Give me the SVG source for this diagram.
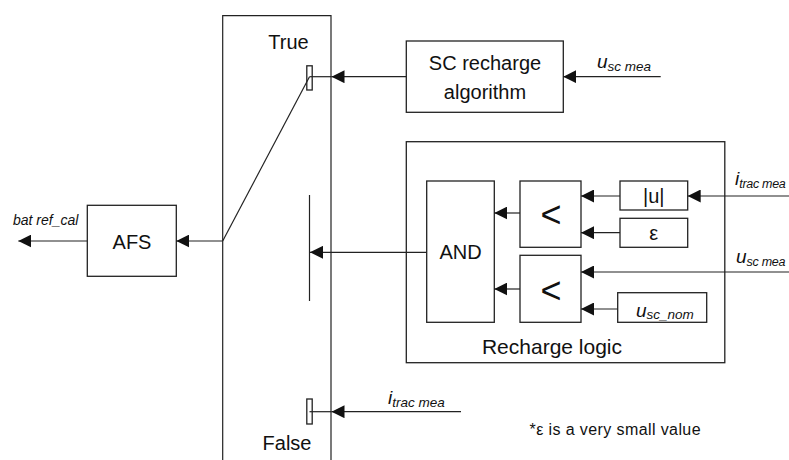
<svg xmlns="http://www.w3.org/2000/svg" width="789" height="460" viewBox="0 0 789 460">
<defs>
<marker id="arr" markerUnits="userSpaceOnUse" markerWidth="14" markerHeight="13" refX="13" refY="6.5" orient="auto">
<path d="M0,0 L13,6.5 L0,13 z" fill="#111"/>
</marker>
<style>
.box{fill:#fff;stroke:#222;stroke-width:1.3}
.ln{fill:none;stroke:#222;stroke-width:1.2}
.t{font-family:"Liberation Sans",Arial,sans-serif;font-size:20px;fill:#111;text-anchor:middle}
.lt{font-family:"Liberation Sans",Arial,sans-serif;font-size:36px;fill:#111;text-anchor:middle}
.v{font-family:"Liberation Sans",Arial,sans-serif;font-style:italic;fill:#111}
.vm{font-size:19px}
.vs{font-size:13.5px}
.vs2{font-size:12.5px}
.note{font-family:"Liberation Sans",Arial,sans-serif;font-size:16px;letter-spacing:0.4px;fill:#111}
</style>
</defs>
<rect width="789" height="460" fill="#fff"/>

<g id="switch">
<path class="ln" d="M222.7,470 V15.7 H331 V470"/>
<text class="t" x="288.5" y="48.5">True</text>
<text class="t" x="287" y="450">False</text>
<rect class="box" x="306.8" y="65.8" width="5.4" height="24.2" stroke-width="1"/>
<rect class="box" x="306.8" y="399" width="5.4" height="25" stroke-width="1"/>
<line class="ln" x1="309.5" y1="195" x2="309.5" y2="301"/>
</g>

<g id="sc-recharge">
<rect class="box" x="406.3" y="41" width="157" height="71.3"/>
<text class="t" x="485" y="70">SC recharge</text>
<text class="t" x="485" y="99">algorithm</text>
</g>

<g id="afs">
<rect class="box" x="87.3" y="205.3" width="89" height="71"/>
<text class="t" x="132" y="249">AFS</text>
</g>

<g id="recharge-logic">
<rect class="box" x="406.3" y="141.7" width="318.5" height="221"/>
<text class="t" x="552" y="354" style="font-size:21px">Recharge logic</text>
</g>

<g id="and">
<rect class="box" x="426.7" y="181" width="67.6" height="141.3"/>
<text class="t" x="460.5" y="258.5">AND</text>
</g>

<g id="lt1">
<rect class="box" x="520" y="181" width="61" height="66.3"/>
<text class="lt" x="551" y="227">&lt;</text>
</g>

<g id="lt2">
<rect class="box" x="520" y="255.3" width="61" height="67"/>
<text class="lt" x="551" y="302.5">&lt;</text>
</g>

<g id="abs">
<rect class="box" x="620" y="181" width="67.7" height="29"/>
<text class="t" x="653.8" y="202.5">|u|</text>
</g>

<g id="eps">
<rect class="box" x="620" y="218.3" width="67.7" height="29"/>
<text class="t" x="653.8" y="240">ε</text>
</g>

<g id="usc-nom">
<rect class="box" x="617.7" y="292.7" width="89" height="29.6"/>
<text class="v" x="636" y="316.5"><tspan class="vm">u</tspan><tspan class="vs" dy="2">sc_nom</tspan></text>
</g>

<g id="connectors">
<line class="ln" x1="406.3" y1="76.7" x2="331.5" y2="76.7" marker-end="url(#arr)"/>
<line class="ln" x1="331.5" y1="76.7" x2="309.5" y2="76.7"/>
<line class="ln" x1="660.7" y1="76.7" x2="563.3" y2="76.7" marker-end="url(#arr)"/>
<line class="ln" x1="309.5" y1="76.7" x2="222.7" y2="241"/>
<line class="ln" x1="222.7" y1="241" x2="176.3" y2="241" marker-end="url(#arr)"/>
<line class="ln" x1="87.3" y1="241" x2="18.3" y2="241" marker-end="url(#arr)"/>
<line class="ln" x1="426.7" y1="252.3" x2="310" y2="252.3" marker-end="url(#arr)"/>
<line class="ln" x1="461" y1="411.7" x2="331.5" y2="411.7" marker-end="url(#arr)"/>
<line class="ln" x1="331.5" y1="411.7" x2="309.5" y2="411.7"/>
<line class="ln" x1="520" y1="213" x2="494.3" y2="213" marker-end="url(#arr)"/>
<line class="ln" x1="520" y1="289" x2="494.3" y2="289" marker-end="url(#arr)"/>
<line class="ln" x1="620" y1="196" x2="581" y2="196" marker-end="url(#arr)"/>
<line class="ln" x1="620" y1="232.7" x2="581" y2="232.7" marker-end="url(#arr)"/>
<line class="ln" x1="617.7" y1="309" x2="581" y2="309" marker-end="url(#arr)"/>
<line class="ln" x1="789" y1="196" x2="687.7" y2="196" marker-end="url(#arr)"/>
<line class="ln" x1="789" y1="272" x2="581" y2="272" marker-end="url(#arr)"/>
</g>

<g id="labels">
<text class="v" x="597" y="68.3"><tspan class="vm">u</tspan><tspan class="vs" dy="3">sc mea</tspan></text>
<text class="v" x="735" y="185"><tspan class="vm">i</tspan><tspan class="vs2" dy="3" letter-spacing="-0.3">trac mea</tspan></text>
<text class="v" x="736" y="263.3"><tspan class="vm">u</tspan><tspan class="vs2" dy="3" letter-spacing="-0.3">sc mea</tspan></text>
<text class="v" x="388" y="404"><tspan class="vm">i</tspan><tspan class="vs" dy="3">trac mea</tspan></text>
<text class="v" x="13" y="225" style="font-size:14px">bat ref_cal</text>
<text class="note" x="529.5" y="435">*ε is a very small value</text>
</g>
</svg>
